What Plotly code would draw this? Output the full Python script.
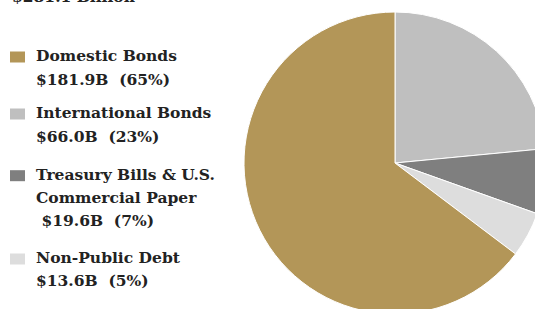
import plotly.graph_objects as go

categories = ["International Bonds", "Treasury Bills & U.S. Commercial Paper", "Non-Public Debt", "Domestic Bonds"]
values = [66.0, 19.6, 13.6, 181.9]
colors = ["#BFBFBF", "#7F7F7F", "#DDDDDD", "#B39658"]

legend_order = ["Domestic Bonds", "International Bonds", "Treasury Bills & U.S. Commercial Paper", "Non-Public Debt"]
legend_lines = {
    "Domestic Bonds": ["Domestic Bonds", "$181.9B  (65%)"],
    "International Bonds": ["International Bonds", "$66.0B  (23%)"],
    "Treasury Bills & U.S. Commercial Paper": ["Treasury Bills & U.S.", "Commercial Paper", " $19.6B  (7%)"],
    "Non-Public Debt": ["Non-Public Debt", "$13.6B  (5%)"],
}
total_label = "$281.1 Billion"

W, H = 546, 316
cx, cy, r = 395, 163, 151

fig = go.Figure(go.Pie(
    labels=categories, values=values, sort=False, direction="clockwise", rotation=0,
    marker=dict(colors=colors, line=dict(color="white", width=1)),
    textinfo="none", hoverinfo="label+value+percent", showlegend=False,
    domain=dict(x=[(cx - r) / W, 1.0], y=[(H - cy - r) / H, (H - cy + r) / H]),
))

FONT = "DejaVu Serif"
FS = 15.5
baselines = [[63, 86.5], [120, 144], [181.7, 205, 228.3], [265, 288.3]]
for name, bl in zip(legend_order, baselines):
    col = colors[categories.index(name)]
    for line, b in zip(legend_lines[name], bl):
        fig.add_annotation(x=34 / W, y=(H - b) / H, xref="paper", yref="paper",
                           xanchor="left", yanchor="bottom", yshift=-4, showarrow=False,
                           text="<b>" + line + "</b>", font=dict(family=FONT, size=FS, color="#222222"))
    top = bl[0] - 11.5
    fig.add_shape(type="rect", xref="paper", yref="paper",
                  x0=10 / W, x1=25 / W, y0=(H - top) / H, y1=(H - top - 11) / H,
                  fillcolor=col, line=dict(width=0))

fig.add_annotation(x=10 / W, y=(H - 4) / H, xref="paper", yref="paper", xanchor="left",
                   yanchor="bottom", yshift=-4, showarrow=False,
                   text="<b>" + total_label + "</b>", font=dict(family=FONT, size=FS, color="#222222"))

fig.update_layout(width=W, height=H, margin=dict(l=0, r=0, t=0, b=0),
                  paper_bgcolor="white", plot_bgcolor="white")

fig.write_html("out.html", config={"displayModeBar": False},
               post_script="document.body.style.margin='0';document.body.style.overflow='hidden';document.documentElement.style.overflow='hidden';")
